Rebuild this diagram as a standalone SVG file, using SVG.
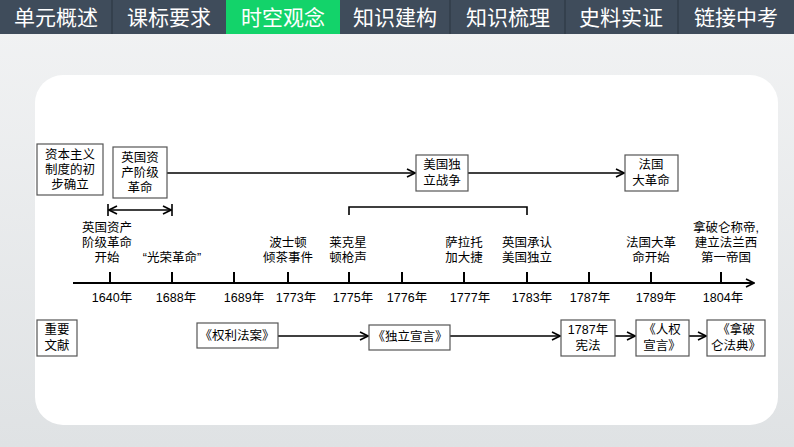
<svg xmlns="http://www.w3.org/2000/svg" width="794" height="447" viewBox="0 0 794 447">
<defs>
<linearGradient id="bg" x1="0" y1="0" x2="0" y2="1"><stop offset="0" stop-color="#f2f3f4"/><stop offset="1" stop-color="#dfe2e4"/></linearGradient>
<marker id="ar" markerWidth="10" markerHeight="10" refX="9" refY="5" orient="auto" markerUnits="userSpaceOnUse"><path d="M1,1 L9,5 L1,9" fill="none" stroke="#000" stroke-width="1.6"/></marker>
<marker id="ar2" markerWidth="10" markerHeight="10" refX="1" refY="5" orient="auto" markerUnits="userSpaceOnUse"><path d="M9,1 L1,5 L9,9" fill="none" stroke="#000" stroke-width="1.6"/></marker>
</defs>
<style>
text{font-family:"Liberation Sans","Noto Sans CJK SC",sans-serif;font-size:12.5px;fill:#000;text-anchor:middle;dominant-baseline:central}
.tab text{font-size:21px;fill:#fff}
.box{fill:#fff;stroke:#555;stroke-width:1.2}
.ln{stroke:#000;stroke-width:1.6;fill:none}
</style>
<rect width="794" height="447" fill="url(#bg)"/>
<g class="tab">
<rect x="0" y="0" width="794" height="34" fill="#3f4c5b"/>
<rect x="226" y="0" width="114" height="34" fill="#13d36a"/>
<g stroke="#2b3540" stroke-width="1"><line x1="112" y1="0" x2="112" y2="34"/><line x1="450" y1="0" x2="450" y2="34"/><line x1="565" y1="0" x2="565" y2="34"/><line x1="678" y1="0" x2="678" y2="34"/></g>
<text x="56" y="17">单元概述</text><text x="169" y="17">课标要求</text><text x="283" y="17">时空观念</text><text x="395" y="17">知识建构</text><text x="508" y="17">知识梳理</text><text x="621" y="17">史料实证</text><text x="736" y="17">链接中考</text>
</g>
<rect x="35" y="75" width="743" height="350" rx="28" fill="#fff"/>
<g id="connectors">
<line class="ln" x1="167" y1="173" x2="415" y2="173" marker-end="url(#ar)"/>
<line class="ln" x1="468" y1="173" x2="624" y2="173" marker-end="url(#ar)"/>
<line class="ln" x1="109" y1="210" x2="171" y2="210" marker-start="url(#ar2)" marker-end="url(#ar)"/>
<line class="ln" x1="108" y1="204" x2="108" y2="216"/><line class="ln" x1="172" y1="204" x2="172" y2="216"/>
<path class="ln" d="M349,215 V207 H527 V215"/>
<line x1="73" y1="283" x2="754" y2="283" stroke="#000" stroke-width="2.2" marker-end="url(#ar)"/>
<g stroke="#000" stroke-width="2"><line x1="110" y1="272" x2="110" y2="283"/><line x1="172" y1="272" x2="172" y2="283"/><line x1="234" y1="272" x2="234" y2="283"/><line x1="288" y1="272" x2="288" y2="283"/><line x1="349" y1="272" x2="349" y2="283"/><line x1="402" y1="272" x2="402" y2="283"/><line x1="464" y1="272" x2="464" y2="283"/><line x1="527" y1="272" x2="527" y2="283"/><line x1="589" y1="272" x2="589" y2="283"/><line x1="651" y1="272" x2="651" y2="283"/><line x1="721" y1="272" x2="721" y2="283"/></g>
<line class="ln" x1="278" y1="336" x2="368" y2="336" marker-end="url(#ar)"/>
<line class="ln" x1="450" y1="336" x2="560" y2="336" marker-end="url(#ar)"/>
<line class="ln" x1="615" y1="336" x2="635" y2="336" marker-end="url(#ar)"/>
<line class="ln" x1="689" y1="336" x2="706" y2="336" marker-end="url(#ar)"/>
</g>
<g id="n1"><rect class="box" x="37" y="144" width="66" height="51"/><text x="70" y="155">资本主义</text><text x="70" y="170">制度的初</text><text x="70" y="185">步确立</text></g>
<g id="n2"><rect class="box" x="113" y="147" width="54" height="51"/><text x="140" y="158">英国资</text><text x="140" y="173">产阶级</text><text x="140" y="188">革命</text></g>
<g id="n3"><rect class="box" x="416" y="155" width="52" height="36"/><text x="442" y="165">美国独</text><text x="442" y="181">立战争</text></g>
<g id="n4"><rect class="box" x="625" y="155" width="53" height="36"/><text x="651" y="165">法国</text><text x="651" y="181">大革命</text></g>
<g id="labels">
<text x="107" y="228">英国资产</text><text x="107" y="243">阶级革命</text><text x="107" y="258">开始</text>
<text x="172" y="258">“光荣革命”</text>
<text x="288" y="243">波士顿</text><text x="288" y="258">倾茶事件</text>
<text x="348" y="243">莱克星</text><text x="348" y="258">顿枪声</text>
<text x="464" y="243">萨拉托</text><text x="464" y="258">加大捷</text>
<text x="527" y="243">英国承认</text><text x="527" y="258">美国独立</text>
<text x="651" y="243">法国大革</text><text x="651" y="258">命开始</text>
<text x="726" y="228">拿破仑称帝,</text><text x="726" y="243">建立法兰西</text><text x="726" y="258">第一帝国</text>
</g>
<g id="years">
<text x="112" y="298">1640年</text><text x="176" y="298">1688年</text><text x="244" y="298">1689年</text><text x="296" y="298">1773年</text><text x="353" y="298">1775年</text><text x="407" y="298">1776年</text><text x="470" y="298">1777年</text><text x="532" y="298">1783年</text><text x="590" y="298">1787年</text><text x="656" y="298">1789年</text><text x="723" y="298">1804年</text>
</g>
<g id="n5"><rect class="box" x="37" y="320" width="40" height="36"/><text x="57" y="330">重要</text><text x="57" y="346">文献</text></g>
<g id="n6"><rect class="box" x="197" y="323" width="81" height="25"/><text x="237" y="336">《权利法案》</text></g>
<g id="n7"><rect class="box" x="369" y="325" width="81" height="25"/><text x="410" y="337">《独立宣言》</text></g>
<g id="n8"><rect class="box" x="561" y="320" width="54" height="36"/><text x="588" y="330">1787年</text><text x="588" y="346">宪法</text></g>
<g id="n9"><rect class="box" x="636" y="320" width="53" height="36"/><text x="662" y="330">《人权</text><text x="662" y="346">宣言》</text></g>
<g id="n10"><rect class="box" x="707" y="320" width="58" height="36"/><text x="736" y="330">《拿破</text><text x="736" y="346">仑法典》</text></g>
</svg>
